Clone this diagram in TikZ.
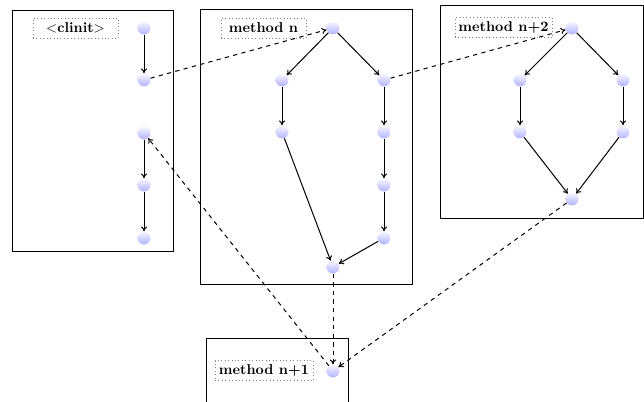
\documentclass[tikz,border=0pt]{standalone}
\usetikzlibrary{arrows.meta}
\begin{document}
\begin{tikzpicture}[x=0.7pt,y=-0.7pt,
  vtx/.style={circle,top color=blue!3,bottom color=blue!30,minimum size=9pt,inner sep=0pt},
  frame/.style={draw,line width=0.6pt},
  tag/.style={draw=gray,dotted,font=\bfseries,minimum height=14pt,inner sep=1pt},
  tip/.style={-{To[length=3.4pt,width=4.4pt]}},
  flow/.style={tip,line width=0.7pt},
  call/.style={tip,dashed,line width=0.7pt}]
\useasboundingbox (0,0) rectangle (644,401);

% method frames
\draw[frame] (12,10) rectangle (173,251);
\draw[frame] (200,9) rectangle (412,284);
\draw[frame] (440,5) rectangle (643,218);
\draw[frame] (206,338) rectangle (348,420);

% frame titles
\node[tag,minimum width=59.5pt] (tclinit) at (75.5,28) {$<$clinit$>$};
\node[tag,minimum width=59.5pt] (tn) at (263.5,28) {method n};
\node[tag,minimum width=68pt] (tn2) at (503.5,27.5) {method n+2};
\node[tag,minimum width=68.6pt] (tn1) at (264,370.5) {method n+1};

% <clinit>
\node[vtx] (c1) at (144,28) {};
\node[vtx] (c2) at (144,80) {};
\node[vtx] (c3) at (144,133) {};
\node[vtx] (c4) at (144,185) {};
\node[vtx] (c5) at (144,238) {};

% method n
\node[vtx] (a0) at (333,28) {};
\node[vtx] (a1) at (282,80) {};
\node[vtx] (a2) at (384,80) {};
\node[vtx] (a3) at (282,132) {};
\node[vtx] (a4) at (384,132) {};
\node[vtx] (a5) at (384,185) {};
\node[vtx] (a6) at (384,238) {};
\node[vtx] (a7) at (333,267) {};

% method n+2
\node[vtx] (b0) at (572,28) {};
\node[vtx] (b1) at (520,80) {};
\node[vtx] (b2) at (623,80) {};
\node[vtx] (b3) at (520,132) {};
\node[vtx] (b4) at (623,132) {};
\node[vtx] (b5) at (572,199) {};

% method n+1
\node[vtx] (d0) at (333,371) {};

% control flow inside methods
\draw[flow] (c1) -- (c2);
\draw[flow] (c3) -- (c4);
\draw[flow] (c4) -- (c5);

\draw[flow] (a0) -- (a1);
\draw[flow] (a0) -- (a2);
\draw[flow] (a1) -- (a3);
\draw[flow] (a2) -- (a4);
\draw[flow] (a4) -- (a5);
\draw[flow] (a5) -- (a6);
\draw[flow] (a3) -- (a7);
\draw[flow] (a6) -- (a7);

\draw[flow] (b0) -- (b1);
\draw[flow] (b0) -- (b2);
\draw[flow] (b1) -- (b3);
\draw[flow] (b2) -- (b4);
\draw[flow] (b3) -- (b5);
\draw[flow] (b4) -- (b5);

% calls and returns between methods
\draw[call] (c2) -- (a0);
\draw[call] (a2) -- (b0);
\draw[call] (a7) -- (d0);
\draw[call] (b5) -- (d0);
\draw[call] (d0) -- (c3);
\end{tikzpicture}
\end{document}
